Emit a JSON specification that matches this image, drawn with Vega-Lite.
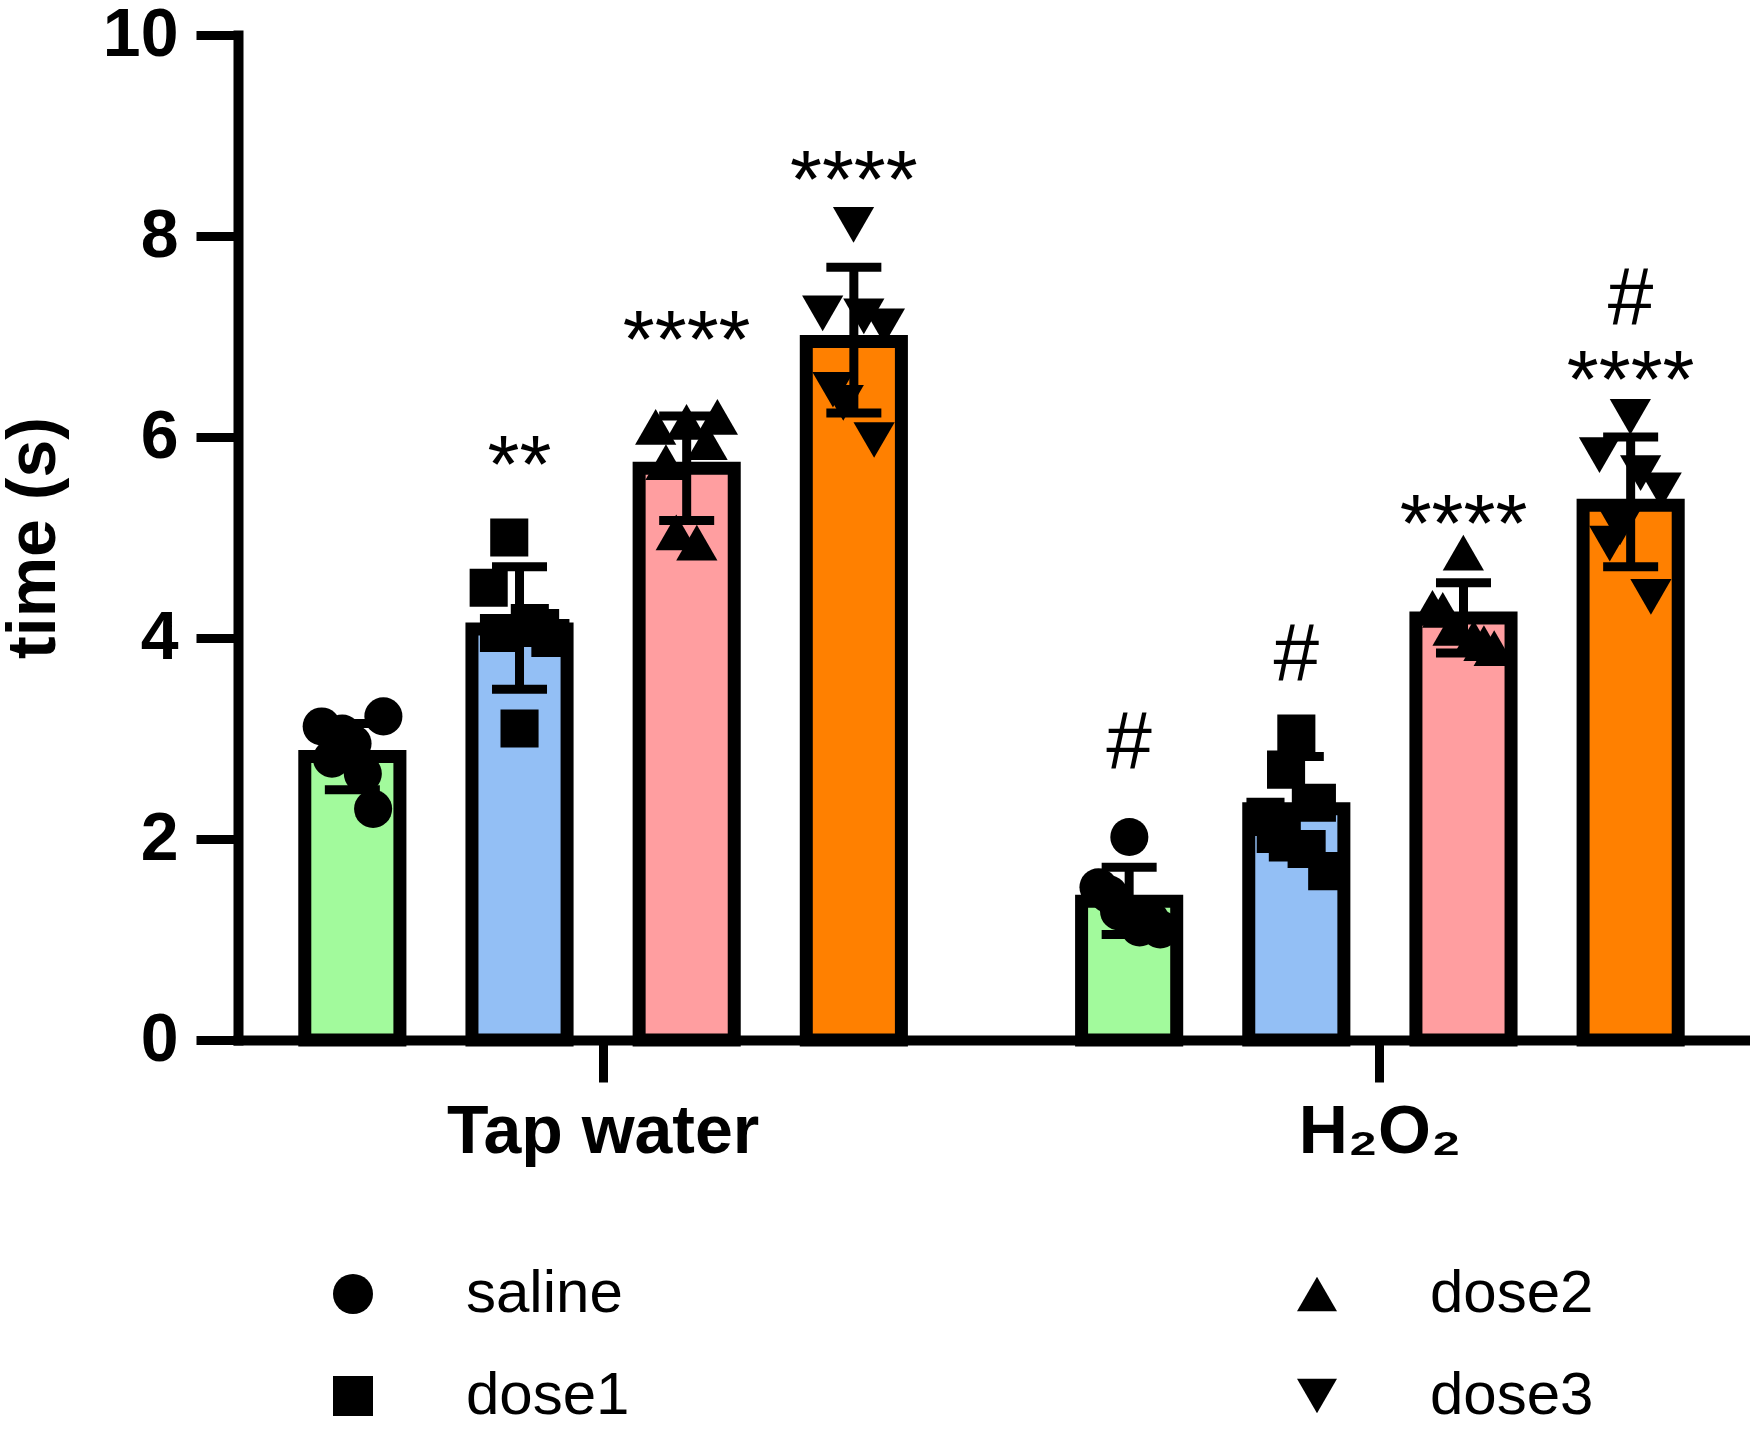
{
  "$schema": "https://vega.github.io/schema/vega-lite/v6.json",
  "description": "Time (s) by group and dose, mean with SD and individual values",
  "width": 1507,
  "height": 1005,
  "autosize": {"type": "none"},
  "padding": {"left": 238, "top": 35, "right": 5, "bottom": 400},
  "background": "white",
  "config": {
    "view": {"stroke": null},
    "font": "Liberation Sans",
    "axis": {
      "domainColor": "black", "domainWidth": 10, "domainCap": "square",
      "tickColor": "black", "tickWidth": 9, "tickSize": 42,
      "labelColor": "black", "labelFont": "Liberation Sans", "labelFontWeight": "bold", "labelFontSize": 68, "labelLimit": 0,
      "titleColor": "black", "titleFont": "Liberation Sans", "titleFontWeight": "bold", "titleFontSize": 68,
      "grid": false
    },
    "legend": {
      "orient": "none", "legendX": 85, "legendY": 1229,
      "columns": 2, "columnPadding": 657, "rowPadding": 42, "padding": 0,
      "symbolSize": 1600, "symbolFillColor": "black", "symbolStrokeWidth": 0,
      "labelFont": "Liberation Sans", "labelFontSize": 60, "labelColor": "black", "labelOffset": 83, "labelLimit": 0,
      "title": null
    }
  },
  "datasets": {
    "bars": [
      {"group": "Tap water", "dose": "saline", "mean": 2.82, "lo": 2.49, "hi": 3.15},
      {"group": "Tap water", "dose": "dose1", "mean": 4.09, "lo": 3.49, "hi": 4.71},
      {"group": "Tap water", "dose": "dose2", "mean": 5.69, "lo": 5.17, "hi": 6.21},
      {"group": "Tap water", "dose": "dose3", "mean": 6.95, "lo": 6.24, "hi": 7.69},
      {"group": "H₂O₂", "dose": "saline", "mean": 1.38, "lo": 1.05, "hi": 1.72},
      {"group": "H₂O₂", "dose": "dose1", "mean": 2.30, "lo": 1.82, "hi": 2.82},
      {"group": "H₂O₂", "dose": "dose2", "mean": 4.20, "lo": 3.85, "hi": 4.55},
      {"group": "H₂O₂", "dose": "dose3", "mean": 5.32, "lo": 4.71, "hi": 6.00}
    ],
    "points": [
      {"group": "Tap water", "dose": "saline", "animal": 1, "time": 3.12},
      {"group": "Tap water", "dose": "saline", "animal": 2, "time": 2.80},
      {"group": "Tap water", "dose": "saline", "animal": 3, "time": 3.05},
      {"group": "Tap water", "dose": "saline", "animal": 4, "time": 2.95},
      {"group": "Tap water", "dose": "saline", "animal": 5, "time": 2.65},
      {"group": "Tap water", "dose": "saline", "animal": 6, "time": 2.30},
      {"group": "Tap water", "dose": "saline", "animal": 7, "time": 3.22},
      {"group": "Tap water", "dose": "dose1", "animal": 1, "time": 4.50},
      {"group": "Tap water", "dose": "dose1", "animal": 2, "time": 4.05},
      {"group": "Tap water", "dose": "dose1", "animal": 3, "time": 5.00},
      {"group": "Tap water", "dose": "dose1", "animal": 4, "time": 3.10},
      {"group": "Tap water", "dose": "dose1", "animal": 5, "time": 4.15},
      {"group": "Tap water", "dose": "dose1", "animal": 6, "time": 4.10},
      {"group": "Tap water", "dose": "dose1", "animal": 7, "time": 4.00},
      {"group": "Tap water", "dose": "dose2", "animal": 1, "time": 6.10},
      {"group": "Tap water", "dose": "dose2", "animal": 2, "time": 5.75},
      {"group": "Tap water", "dose": "dose2", "animal": 3, "time": 5.05},
      {"group": "Tap water", "dose": "dose2", "animal": 4, "time": 6.15},
      {"group": "Tap water", "dose": "dose2", "animal": 5, "time": 4.95},
      {"group": "Tap water", "dose": "dose2", "animal": 6, "time": 5.95},
      {"group": "Tap water", "dose": "dose2", "animal": 7, "time": 6.20},
      {"group": "Tap water", "dose": "dose3", "animal": 1, "time": 7.23},
      {"group": "Tap water", "dose": "dose3", "animal": 2, "time": 6.47},
      {"group": "Tap water", "dose": "dose3", "animal": 3, "time": 6.34},
      {"group": "Tap water", "dose": "dose3", "animal": 4, "time": 8.11},
      {"group": "Tap water", "dose": "dose3", "animal": 5, "time": 7.20},
      {"group": "Tap water", "dose": "dose3", "animal": 6, "time": 5.97},
      {"group": "Tap water", "dose": "dose3", "animal": 7, "time": 7.10},
      {"group": "H₂O₂", "dose": "saline", "animal": 1, "time": 1.52},
      {"group": "H₂O₂", "dose": "saline", "animal": 2, "time": 1.45},
      {"group": "H₂O₂", "dose": "saline", "animal": 3, "time": 1.28},
      {"group": "H₂O₂", "dose": "saline", "animal": 4, "time": 2.02},
      {"group": "H₂O₂", "dose": "saline", "animal": 5, "time": 1.12},
      {"group": "H₂O₂", "dose": "saline", "animal": 6, "time": 1.20},
      {"group": "H₂O₂", "dose": "saline", "animal": 7, "time": 1.10},
      {"group": "H₂O₂", "dose": "dose1", "animal": 1, "time": 2.22},
      {"group": "H₂O₂", "dose": "dose1", "animal": 2, "time": 2.05},
      {"group": "H₂O₂", "dose": "dose1", "animal": 3, "time": 2.69},
      {"group": "H₂O₂", "dose": "dose1", "animal": 4, "time": 3.05},
      {"group": "H₂O₂", "dose": "dose1", "animal": 5, "time": 1.90},
      {"group": "H₂O₂", "dose": "dose1", "animal": 6, "time": 2.36},
      {"group": "H₂O₂", "dose": "dose1", "animal": 7, "time": 1.68},
      {"group": "H₂O₂", "dose": "dose2", "animal": 1, "time": 4.30},
      {"group": "H₂O₂", "dose": "dose2", "animal": 2, "time": 4.28},
      {"group": "H₂O₂", "dose": "dose2", "animal": 3, "time": 4.10},
      {"group": "H₂O₂", "dose": "dose2", "animal": 4, "time": 4.85},
      {"group": "H₂O₂", "dose": "dose2", "animal": 5, "time": 4.00},
      {"group": "H₂O₂", "dose": "dose2", "animal": 6, "time": 3.95},
      {"group": "H₂O₂", "dose": "dose2", "animal": 7, "time": 3.90},
      {"group": "H₂O₂", "dose": "dose3", "animal": 1, "time": 5.82},
      {"group": "H₂O₂", "dose": "dose3", "animal": 2, "time": 4.94},
      {"group": "H₂O₂", "dose": "dose3", "animal": 3, "time": 5.10},
      {"group": "H₂O₂", "dose": "dose3", "animal": 4, "time": 6.20},
      {"group": "H₂O₂", "dose": "dose3", "animal": 5, "time": 5.64},
      {"group": "H₂O₂", "dose": "dose3", "animal": 6, "time": 4.41},
      {"group": "H₂O₂", "dose": "dose3", "animal": 7, "time": 5.47}
    ],
    "notes": [
      {"group": "Tap water", "dose": "dose1", "label": "**", "pos": 5.45},
      {"group": "Tap water", "dose": "dose2", "label": "****", "pos": 6.70},
      {"group": "Tap water", "dose": "dose3", "label": "****", "pos": 8.29},
      {"group": "H₂O₂", "dose": "saline", "label": "#", "pos": 2.71},
      {"group": "H₂O₂", "dose": "dose1", "label": "#", "pos": 3.58},
      {"group": "H₂O₂", "dose": "dose2", "label": "****", "pos": 4.87},
      {"group": "H₂O₂", "dose": "dose3", "label": "****", "pos": 6.30},
      {"group": "H₂O₂", "dose": "dose3", "label": "#", "pos": 7.12}
    ]
  },
  "encoding": {
    "x": {
      "field": "group", "type": "nominal", "sort": ["Tap water", "H₂O₂"],
      "scale": {"paddingInner": 0.1, "paddingOuter": 0.02},
      "axis": {"title": null, "labelAngle": 0, "labelPadding": 16}
    }
  },
  "layer": [
    {
      "data": {"name": "bars"},
      "mark": {"type": "bar", "stroke": "black", "strokeWidth": 13, "strokeJoin": "miter"},
      "encoding": {
        "xOffset": {"field": "dose", "type": "nominal", "sort": ["saline", "dose1", "dose2", "dose3"],
          "scale": {"type": "band", "paddingInner": 0.431, "paddingOuter": 0.3066}},
        "y": {"field": "mean", "type": "quantitative", "title": "time (s)",
          "scale": {"domain": [0, 10], "nice": false},
          "axis": {"values": [0, 2, 4, 6, 8, 10], "format": "d", "labelPadding": 18, "titlePadding": 34}},
        "color": {"field": "dose", "type": "nominal",
          "scale": {"domain": ["dose1", "saline", "dose2", "dose3"], "range": ["#93bff5", "#a2fa9c", "#ff9ea0", "#ff8000"]},
          "legend": null}
      }
    },
    {
      "data": {"name": "points"},
      "transform": [{"filter": "datum.dose === 'saline'"}],
      "mark": {"type": "point", "filled": true, "color": "black", "opacity": 1, "size": 1450},
      "encoding": {
        "xOffset": {"field": "animal", "type": "ordinal", "scale": {"type": "point", "range": [63, 135]}},
        "y": {"field": "time", "type": "quantitative"},
        "shape": {"field": "dose", "type": "nominal",
          "scale": {"domain": ["saline", "dose1", "dose2", "dose3"], "range": ["circle", "square", "triangle-up", "triangle-down"]}}
      }
    },
    {
      "data": {"name": "points"},
      "transform": [{"filter": "datum.dose === 'dose1'"}],
      "mark": {"type": "point", "filled": true, "color": "black", "opacity": 1, "size": 1450},
      "encoding": {
        "xOffset": {"field": "animal", "type": "ordinal", "scale": {"type": "point", "range": [230, 302]}},
        "y": {"field": "time", "type": "quantitative"},
        "shape": {"field": "dose", "type": "nominal"}
      }
    },
    {
      "data": {"name": "points"},
      "transform": [{"filter": "datum.dose === 'dose2'"}],
      "mark": {"type": "point", "filled": true, "color": "black", "opacity": 1, "size": 1700},
      "encoding": {
        "xOffset": {"field": "animal", "type": "ordinal", "scale": {"type": "point", "range": [397, 469]}},
        "y": {"field": "time", "type": "quantitative"},
        "shape": {"field": "dose", "type": "nominal"}
      }
    },
    {
      "data": {"name": "points"},
      "transform": [{"filter": "datum.dose === 'dose3'"}],
      "mark": {"type": "point", "filled": true, "color": "black", "opacity": 1, "size": 1700},
      "encoding": {
        "xOffset": {"field": "animal", "type": "ordinal", "scale": {"type": "point", "range": [564, 636]}},
        "y": {"field": "time", "type": "quantitative"},
        "shape": {"field": "dose", "type": "nominal"}
      }
    },
    {
      "data": {"name": "bars"},
      "mark": {"type": "rule", "color": "black", "strokeWidth": 9},
      "encoding": {
        "xOffset": {"field": "dose", "type": "nominal", "sort": ["saline", "dose1", "dose2", "dose3"],
          "scale": {"type": "band", "paddingInner": 0.431, "paddingOuter": 0.3066}},
        "y": {"field": "lo", "type": "quantitative"},
        "y2": {"field": "hi"}
      }
    },
    {
      "data": {"name": "bars"},
      "mark": {"type": "tick", "color": "black", "size": 55, "thickness": 9, "opacity": 1},
      "encoding": {
        "xOffset": {"field": "dose", "type": "nominal", "sort": ["saline", "dose1", "dose2", "dose3"],
          "scale": {"type": "band", "paddingInner": 0.431, "paddingOuter": 0.3066}},
        "y": {"field": "lo", "type": "quantitative"}
      }
    },
    {
      "data": {"name": "bars"},
      "mark": {"type": "tick", "color": "black", "size": 55, "thickness": 9, "opacity": 1},
      "encoding": {
        "xOffset": {"field": "dose", "type": "nominal", "sort": ["saline", "dose1", "dose2", "dose3"],
          "scale": {"type": "band", "paddingInner": 0.431, "paddingOuter": 0.3066}},
        "y": {"field": "hi", "type": "quantitative"}
      }
    },
    {
      "data": {"name": "notes"},
      "mark": {"type": "text", "baseline": "alphabetic", "align": "center", "fontSize": 82, "font": "Liberation Sans", "color": "black"},
      "encoding": {
        "xOffset": {"field": "dose", "type": "nominal", "sort": ["saline", "dose1", "dose2", "dose3"],
          "scale": {"type": "band", "paddingInner": 0.431, "paddingOuter": 0.3066}},
        "y": {"field": "pos", "type": "quantitative"},
        "text": {"field": "label"}
      }
    }
  ],
  "resolve": {"scale": {"xOffset": "independent"}}
}
